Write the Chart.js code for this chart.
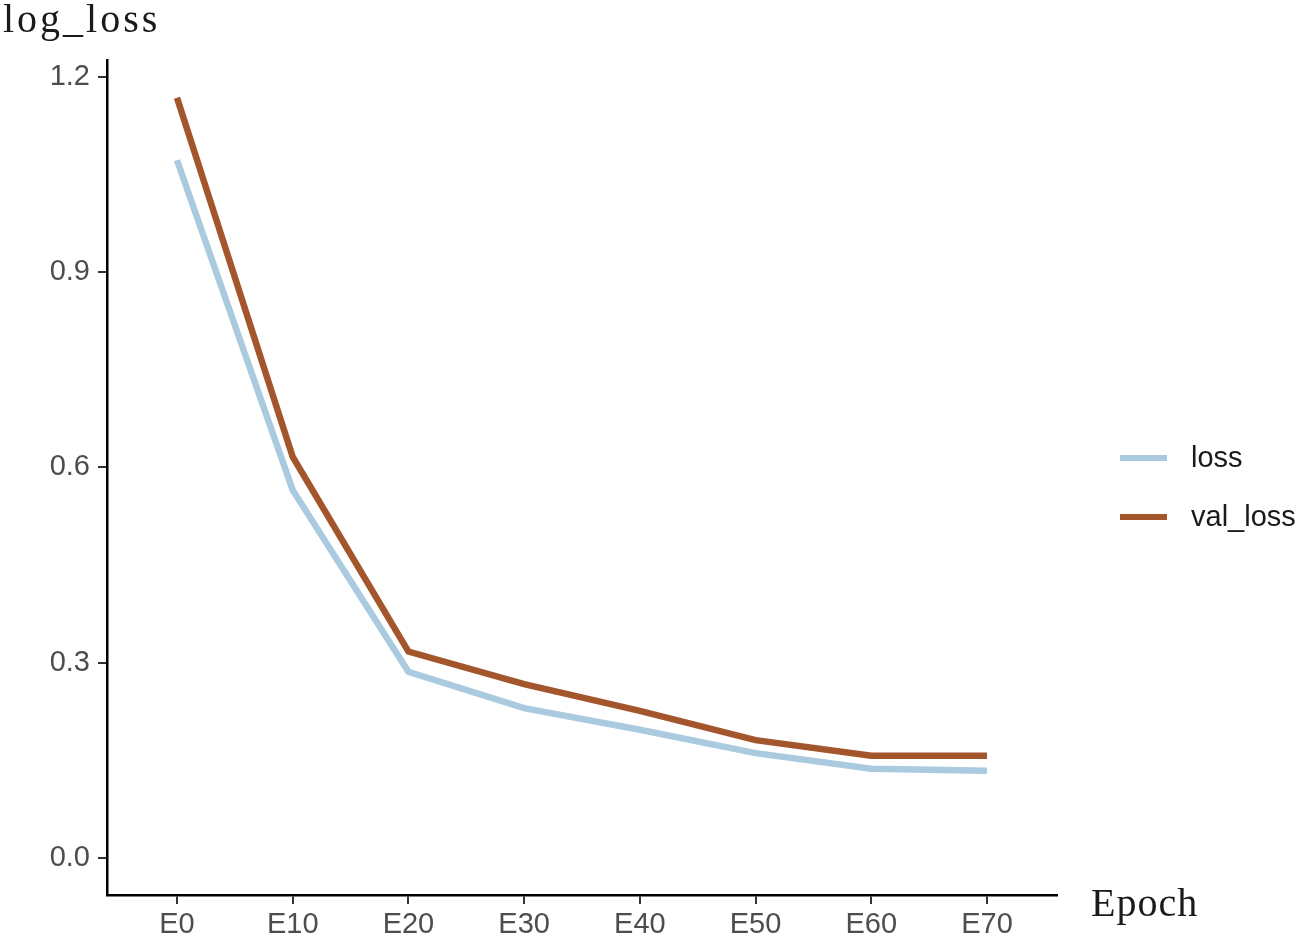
<!DOCTYPE html>
<html>
<head>
<meta charset="utf-8">
<script src="https://cdn.jsdelivr.net/npm/chart.js@4.4.1/dist/chart.umd.min.js"></script>
<style>
  html, body { margin: 0; padding: 0; background: #fff; }
  #wrap { width: 1304px; height: 940px; position: relative; }
</style>
</head>
<body>
<div id="wrap"><canvas id="c" width="1304" height="940"></canvas></div>
<script>
// Data
const epochs = ['E0', 'E10', 'E20', 'E30', 'E40', 'E50', 'E60', 'E70'];
const loss = [1.072, 0.565, 0.286, 0.230, 0.197, 0.161, 0.137, 0.134];
const valLoss = [1.168, 0.616, 0.317, 0.267, 0.226, 0.181, 0.157, 0.157];
const yTicks = [0.0, 0.3, 0.6, 0.9, 1.2];

const colors = { loss: '#a9cadf', val: '#a3552c' };
const tickFont = { family: '"Liberation Sans", Arial, sans-serif', size: 29 };

// y title, x title (placed right of axis) and legend drawn on canvas
const annotations = {
  id: 'annotations',
  afterDraw(chart) {
    const ctx = chart.ctx;
    ctx.save();
    ctx.fillStyle = '#1a1a1a';
    ctx.font = '40px "Liberation Serif", "Times New Roman", serif';
    ctx.textBaseline = 'alphabetic';
    ctx.textAlign = 'left';
    ctx.letterSpacing = '3px';
    ctx.fillText('log_loss', 3, 32);
    ctx.letterSpacing = '1px';
    ctx.fillText('Epoch', 1091, 916);
    ctx.letterSpacing = '0px';

    // legend
    const rowY = [458, 517];
    ctx.font = '29px "Liberation Sans", Arial, sans-serif';
    ctx.textBaseline = 'middle';
    chart.data.datasets.forEach((ds, i) => {
      ctx.strokeStyle = ds.borderColor;
      ctx.lineWidth = 6;
      ctx.lineCap = 'butt';
      ctx.beginPath();
      ctx.moveTo(1120, rowY[i]);
      ctx.lineTo(1167, rowY[i]);
      ctx.stroke();
      ctx.fillStyle = '#1a1a1a';
      ctx.fillText(ds.label, 1191, rowY[i] + 1);
    });
    ctx.restore();
  }
};

new Chart(document.getElementById('c'), {
  type: 'line',
  data: {
    datasets: [
      {
        label: 'loss',
        data: loss.map((v, i) => ({ x: i, y: v })),
        borderColor: colors.loss,
        backgroundColor: colors.loss,
        borderWidth: 6.5,
        pointRadius: 0,
        tension: 0
      },
      {
        label: 'val_loss',
        data: valLoss.map((v, i) => ({ x: i, y: v })),
        borderColor: colors.val,
        backgroundColor: colors.val,
        borderWidth: 6.5,
        pointRadius: 0,
        tension: 0
      }
    ]
  },
  options: {
    responsive: false,
    animation: false,
    layout: { padding: { top: 60, right: 247, bottom: 0, left: 0 } },
    plugins: {
      legend: { display: false },
      tooltip: { enabled: false }
    },
    scales: {
      x: {
        type: 'linear',
        min: -0.605,
        max: 7.605,
        afterBuildTicks: (scale) => { scale.ticks = epochs.map((_, i) => ({ value: i })); },
        afterFit: (scale) => { scale.height = 45; },
        ticks: {
          callback: (v) => epochs[v],
          font: tickFont,
          color: '#4d4d4d',
          padding: 4,
          maxRotation: 0
        },
        grid: { drawOnChartArea: false, drawTicks: true, tickLength: 9, color: '#333', lineWidth: 2 },
        border: { display: true, color: '#000', width: 2.5 }
      },
      y: {
        min: -0.057,
        max: 1.226,
        afterBuildTicks: (scale) => { scale.ticks = yTicks.map(v => ({ value: v })); },
        afterFit: (scale) => { scale.width = 107; },
        ticks: {
          callback: (v) => v.toFixed(1),
          font: tickFont,
          color: '#4d4d4d',
          padding: 8
        },
        grid: { drawOnChartArea: false, drawTicks: true, tickLength: 9, color: '#333', lineWidth: 2 },
        border: { display: true, color: '#000', width: 2.5 }
      }
    }
  },
  plugins: [annotations]
});
</script>
</body>
</html>
